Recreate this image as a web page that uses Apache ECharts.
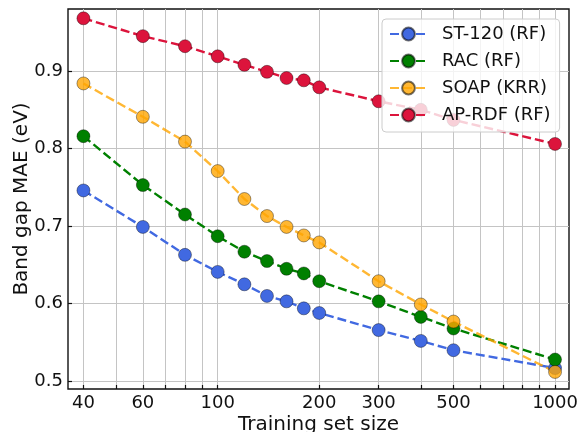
<!DOCTYPE html>
<html lang="en">
<head>
<meta charset="UTF-8">
<title>Band gap MAE</title>
<script src="https://cdn.jsdelivr.net/npm/echarts@6/dist/echarts.min.js"></script>
<style>
  html, body { margin: 0; padding: 0; background: #fff; }
  #chart { width: 580px; height: 432px; }
</style>
</head>
<body>
<div id="chart"></div>
<script>
// training set sizes (x)
var sizes = [40, 60, 80, 100, 120, 140, 160, 180, 200, 300, 400, 500, 1000];
// MAE per descriptor / model
var st120 = [0.746, 0.699, 0.663, 0.641, 0.625, 0.610, 0.603, 0.594, 0.588, 0.566, 0.552, 0.540, 0.517];
var rac   = [0.816, 0.753, 0.715, 0.687, 0.667, 0.655, 0.645, 0.639, 0.629, 0.603, 0.583, 0.568, 0.528];
var soap  = [0.884, 0.841, 0.809, 0.771, 0.735, 0.713, 0.699, 0.688, 0.679, 0.629, 0.599, 0.577, 0.512];
var aprdf = [0.968, 0.945, 0.932, 0.919, 0.908, 0.899, 0.891, 0.888, 0.879, 0.861, 0.850, 0.837, 0.806];

var xGridTicks = [40, 50, 60, 70, 80, 90, 100, 200, 300, 400, 500, 600, 700, 800, 900, 1000];
var xLabels = [40, 60, 100, 200, 300, 500, 1000];
var yTicks = [0.5, 0.6, 0.7, 0.8, 0.9];

var font = 'DejaVu Sans';

function pairs(ys) {
    var out = [];
    for (var i = 0; i < sizes.length; i++) out.push([sizes[i], ys[i]]);
    return out;
}

function makeSeries(name, color, ys) {
    return {
        name: name,
        type: 'line',
        data: pairs(ys),
        symbol: 'circle',
        symbolSize: 13,
        lineStyle: { color: color, width: 2.4, type: [9, 4] },
        itemStyle: { color: color, borderColor: 'rgba(0,0,0,0.55)', borderWidth: 0.7 }
    };
}

var chart = echarts.init(document.getElementById('chart'));
var option = {
    animation: false,
    textStyle: { fontFamily: font },
    grid: {
        left: 68, right: 11, top: 9, bottom: 43,
        outerBoundsMode: 'none', containLabel: false,
        show: true, borderColor: '#111', borderWidth: 1.4, backgroundColor: 'transparent'
    },
    legend: {
        left: 382, top: 19,
        orient: 'vertical',
        padding: [6, 9, 8, 7],
        itemWidth: 37, itemHeight: 16, itemGap: 9,
        backgroundColor: 'rgba(255,255,255,0.8)',
        borderColor: '#cccccc', borderWidth: 1, borderRadius: 4,
        textStyle: {
            fontFamily: font, fontSize: 18, color: '#111', lineHeight: 18,
            padding: [0, 0, 0, 10]
        },
        data: ['ST-120 (RF)', 'RAC (RF)', 'SOAP (KRR)', 'AP-RDF (RF)']
    },
    xAxis: {
        type: 'log', logBase: 10, min: 36, max: 1100,
        name: 'Training set size', nameLocation: 'middle', nameGap: 26, nameMoveOverlap: false,
        nameTextStyle: { fontFamily: font, fontSize: 20, color: '#111' },
        axisLine: { show: false },
        axisTick: { inside: true, length: 4, customValues: xGridTicks, lineStyle: { color: '#111', width: 1.2 } },
        axisLabel: {
            customValues: xLabels, margin: 5, fontSize: 18, color: '#111', fontFamily: font,
            formatter: function (v) { return String(Math.round(v)); }
        },
        splitLine: { show: true, lineStyle: { color: '#c4c4c4', width: 1 } },
        minorTick: { show: false }, minorSplitLine: { show: false }
    },
    yAxis: {
        type: 'value', min: 0.49, max: 0.98,
        name: 'Band gap MAE (eV)', nameLocation: 'middle', nameGap: 36, nameMoveOverlap: false,
        nameTextStyle: { fontFamily: font, fontSize: 20, color: '#111' },
        axisLine: { show: false },
        axisTick: { inside: true, length: 4, customValues: yTicks, lineStyle: { color: '#111', width: 1.2 } },
        axisLabel: {
            customValues: yTicks, margin: 5, fontSize: 18, color: '#111', fontFamily: font,
            formatter: function (v) { return v.toFixed(1); }
        },
        splitLine: { show: true, lineStyle: { color: '#c4c4c4', width: 1 } }
    },
    series: [
        makeSeries('ST-120 (RF)', '#4169e1', st120),
        makeSeries('RAC (RF)', '#008000', rac),
        makeSeries('SOAP (KRR)', 'rgba(255,165,0,0.8)', soap),
        makeSeries('AP-RDF (RF)', '#dc143c', aprdf)
    ]
};
chart.setOption(option);
</script>
</body>
</html>
